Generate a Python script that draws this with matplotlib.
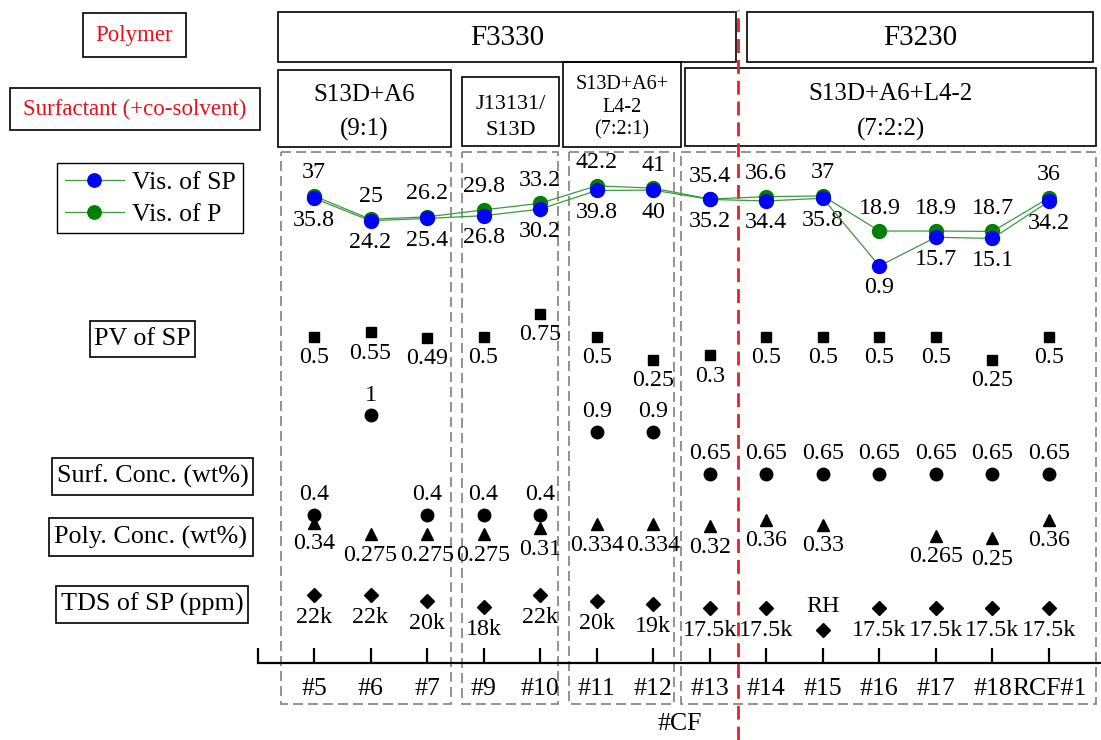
import matplotlib
matplotlib.use("Agg")
import matplotlib.pyplot as plt
import matplotlib.transforms as mtransforms
from matplotlib.patches import Rectangle
from matplotlib.lines import Line2D
import numpy as np

plt.rcParams['font.family'] = ['Liberation Serif', 'DejaVu Serif']

# ---- data -------------------------------------------------------------
categories = ['#5', '#6', '#7', '#9', '#10', '#11', '#12', '#13',
              '#14', '#15', '#16', '#17', '#18', 'RCF#1']
vis_sp = [35.8, 24.2, 25.4, 26.8, 30.2, 39.8, 40, 35.2, 34.4, 35.8, 0.9, 15.7, 15.1, 34.2]
vis_p = [37, 25, 26.2, 29.8, 33.2, 42.2, 41, 35.4, 36.6, 37, 18.9, 18.9, 18.7, 36]
pv_sp = [0.5, 0.55, 0.49, 0.5, 0.75, 0.5, 0.25, 0.3, 0.5, 0.5, 0.5, 0.5, 0.25, 0.5]
surf_conc = [0.4, 1, 0.4, 0.4, 0.4, 0.9, 0.9, 0.65, 0.65, 0.65, 0.65, 0.65, 0.65, 0.65]
poly_conc = [0.34, 0.275, 0.275, 0.275, 0.31, 0.334, 0.334, 0.32, 0.36, 0.33, np.nan, 0.265, 0.25, 0.36]
tds_k = [22, 22, 20, 18, 22, 20, 19, 17.5, 17.5, np.nan, 17.5, 17.5, 17.5, 17.5]
tds_labels = ['22k', '22k', '20k', '18k', '22k', '20k', '19k', '17.5k',
              '17.5k', 'RH', '17.5k', '17.5k', '17.5k', '17.5k']

# ---- layout (figure pixels) ------------------------------------------
W, H = 1101, 740
fig = plt.figure(figsize=(W / 100, H / 100), dpi=100)
PT = 0.72  # points per pixel at 100 dpi

AX_L, AX_R, AX_BOT = 258, 1101, 663
rect = [AX_L / W, 1 - AX_BOT / H, (AX_R - AX_L) / W, AX_BOT / H]
x = np.arange(len(categories))
XLIM = (-0.99, 13.92)

FS = 17.3        # value labels
FS_TICK = 18.5   # category labels
FS_ROW = 18.8    # row captions

# overlay frame for the header boxes, row captions and group outlines
ov = fig.add_axes([0, 0, 1, 1], zorder=0)
ov.set_xlim(0, W)
ov.set_ylim(H, 0)
ov.axis('off')

base = fig.add_axes(rect, zorder=2)
base.patch.set_visible(False)
base.set_xlim(*XLIM)
base.set_ylim(0, 1)
for s in ('top', 'right', 'left'):
    base.spines[s].set_visible(False)
base.spines['bottom'].set_linewidth(1.6)
base.set_yticks([])
base.set_xticks(x)
base.set_xticklabels(categories)
base.set_xticks([XLIM[0]], minor=True)
base.tick_params(axis='x', which='both', direction='in', length=11, width=1.6,
                 labelsize=FS_TICK, pad=10.5)
base.set_xlabel('#CF', fontsize=FS_TICK, labelpad=10)


def row_axes(anchor_px, px_per_unit):
    """Transparent axes whose value v sits at figure pixel anchor - v*scale."""
    a = fig.add_axes(rect, sharex=base, zorder=3)
    a.patch.set_visible(False)
    a.axis('off')
    a.set_ylim((anchor_px - AX_BOT) / px_per_unit, anchor_px / px_per_unit)
    return a


def label(ax, text, xy, dy_px):
    ax.annotate(text, xy, xytext=(0, -dy_px * PT), textcoords='offset points',
                ha='center', va='center', fontsize=FS)


# viscosity row
ax_vis = row_axes(267.7, 1.94)
line_green = '#3c9a3c'
ax_vis.plot(x, vis_p, color=line_green, lw=0.9, marker='o', ms=10,
            mfc='#008000', mec='#008000', zorder=3)
ax_vis.plot(x, vis_sp, color=line_green, lw=0.9, marker='o', ms=10,
            mfc='#0000ff', mec='#0000ff', zorder=4)
for xi, vp, vs in zip(x, vis_p, vis_sp):
    label(ax_vis, f'{vp:g}', (xi, vp), -23)
    label(ax_vis, f'{vs:g}', (xi, vs), 22)

# pore volume row
ax_pv = row_axes(383, 92)
ax_pv.plot(x, pv_sp, ls='none', marker='s', ms=7.5, color='black')
for xi, v in zip(x, pv_sp):
    label(ax_pv, f'{v:g}', (xi, v), 21)

# surfactant concentration row
ax_surf = row_axes(581.4, 166)
ax_surf.plot(x, surf_conc, ls='none', marker='o', ms=9, color='black')
for xi, v in zip(x, surf_conc):
    label(ax_surf, f'{v:g}', (xi, v), -20)

# polymer concentration row
ax_poly = row_axes(580.8, 170)
ax_poly.plot(x, poly_conc, ls='none', marker='^', ms=9, color='black')
for xi, v in zip(x, poly_conc):
    if not np.isnan(v):
        label(ax_poly, f'{v:g}', (xi, v), 21)

# TDS row (the RH sample is drawn one step below the 17.5k level)
ax_tds = row_axes(660.5, 3)
ax_tds.plot(x, tds_k, ls='none', marker='D', ms=7, color='black')
rh_base = 17.5
rh_shift = mtransforms.ScaledTranslation(0, -22 / 100, fig.dpi_scale_trans)
for xi, v, lab in zip(x, tds_k, tds_labels):
    if np.isnan(v):
        ax_tds.plot([xi], [rh_base], ls='none', marker='D', ms=7, color='black',
                    transform=ax_tds.transData + rh_shift)
        label(ax_tds, lab, (xi, rh_base), -2)
    else:
        label(ax_tds, lab, (xi, v), 23)

# red divider between the two polymers
base.axvline(7.5, ymin=-(H - AX_BOT) / AX_BOT, ymax=(AX_BOT - 10) / AX_BOT, clip_on=False,
             color='#e8202a', lw=2, ls=(0, (5, 2.5)), zorder=1)


# ---- boxes -------------------------------------------------------------
def box(x0, y0, x1, y1, text='', color='black', fs=17, ls='-', ec='black', lw=1.2,
        spacing=1.2, dy=0):
    ov.add_patch(Rectangle((x0, y0), x1 - x0, y1 - y0, fill=False, ec=ec, lw=lw, ls=ls))
    if text:
        ov.text((x0 + x1) / 2, (y0 + y1) / 2 + dy, text, ha='center', va='center',
                color=color, fontsize=fs, linespacing=spacing)


red = '#e8101a'
box(83, 13, 186, 57, 'Polymer', color=red, fs=16.5)
box(10, 88, 260, 130, 'Surfactant (+co-solvent)', color=red, fs=16.5)
box(278, 12, 736, 62, 'F3330', fs=21, dy=1)
box(747, 12, 1093, 62, 'F3230', fs=21, dy=1)
box(278, 70, 451, 147, 'S13D+A6\n(9:1)', fs=18, spacing=1.7, dy=4)
box(462, 77, 559, 146, 'J13131/\nS13D', fs=16, spacing=1.45, dy=6)
box(563, 62, 681, 147, 'S13D+A6+\nL4-2\n(7:2:1)', fs=14.5, spacing=1.25, dy=3)
box(685, 68, 1096, 146, 'S13D+A6+L4-2\n(7:2:2)', fs=18, spacing=1.7, dy=5)

box(90, 321, 195, 357, 'PV of SP', fs=FS_ROW)
box(52, 458, 253, 495, 'Surf. Conc. (wt%)', fs=FS_ROW)
box(49, 518, 253, 556, 'Poly. Conc. (wt%)', fs=FS_ROW)
box(56, 586, 248, 623, 'TDS of SP (ppm)', fs=FS_ROW)

for gx0, gx1 in [(281, 451), (462, 558), (569, 674), (681, 1096)]:
    box(gx0, 152, gx1, 704, ec='#808080', lw=1.2, ls=(0, (6, 3)))

handles = [Line2D([], [], color=line_green, lw=0.9, marker='o', ms=9.6,
                  mfc='#0000ff', mec='#0000ff'),
           Line2D([], [], color=line_green, lw=0.9, marker='o', ms=9.6,
                  mfc='#008000', mec='#008000')]
leg = fig.legend(handles, ['Vis. of SP', 'Vis. of P'], loc='upper left',
                 bbox_to_anchor=(57 / W, 1 - 163 / H), fontsize=18.5, frameon=True,
                 fancybox=False, edgecolor='black', framealpha=1, borderpad=0.3,
                 handlelength=2.3, handletextpad=0.3, labelspacing=0.35, borderaxespad=0)
leg.get_frame().set_linewidth(1.0)

fig.savefig('out.png', dpi=100)
